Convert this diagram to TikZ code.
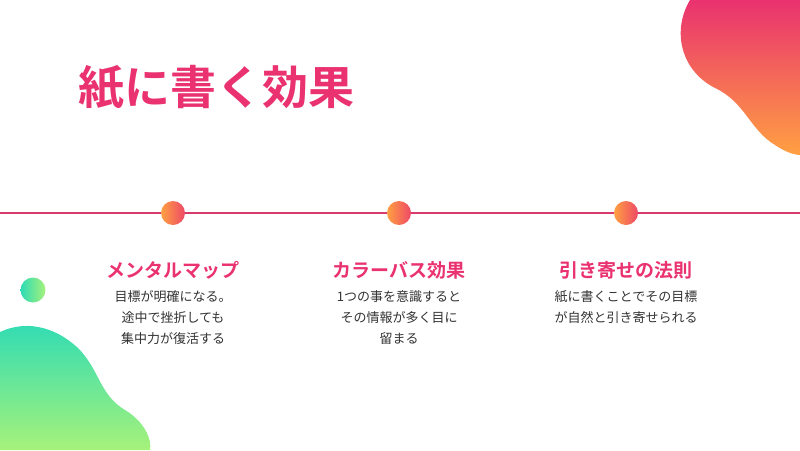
\documentclass[tikz,border=0pt]{standalone}
\usepackage{fontspec}
\newfontfamily\jp{Noto Sans CJK JP}
\newfontfamily\jpb{Noto Sans CJK JP Bold}
\definecolor{rosa}{HTML}{E9326F}
\definecolor{linea}{HTML}{D93A6C}
\definecolor{naranja}{HTML}{FFA042}
\definecolor{texto}{HTML}{333333}
\definecolor{verde}{HTML}{A6F27A}
\definecolor{turquesa}{HTML}{2DDBB6}
\tikzset{
  hito/.style={circle, minimum size=24pt, inner sep=0pt, left color=naranja, right color=rosa!80!naranja},
  titulo/.style={text=rosa, font=\jpb\fontsize{19}{22}\selectfont},
  cuerpo/.style={text=texto, align=center, font=\jp\fontsize{13}{21}\selectfont}
}
\begin{document}
\begin{tikzpicture}[x=1pt, y=-1pt]
  \useasboundingbox (0,0) rectangle (800,450);
  % blobs
  \shade[left color=rosa, right color=naranja, shading angle=0]
    (690,0) .. controls (672,30) and (680,70) .. (715,88)
    .. controls (745,102) and (750,130) .. (775,145)
    .. controls (785,152) and (795,155) .. (800,155) -- (800,0) -- cycle;
  \shade[top color=turquesa, bottom color=verde]
    (0,332) .. controls (30,318) and (60,330) .. (80,350)
    .. controls (100,372) and (100,395) .. (125,410)
    .. controls (145,422) and (152,440) .. (150,450) -- (0,450) -- cycle;
  \shade[left color=turquesa, right color=verde] (33,290) circle (12.5);
  % title
  \node[text=rosa, font=\jpb\fontsize{46}{52}\selectfont, anchor=west] (title) at (75,88) {紙に書く効果};
  % timeline
  \coordinate (l0) at (0,213);
  \coordinate (l1) at (800,213);
  \draw[linea, line width=2pt] (l0) -- (l1);
  \node[hito] (h1) at (173,213) {};
  \node[hito] (h2) at (399,213) {};
  \node[hito] (h3) at (626,213) {};
  \node[titulo] (t1) at (173,270) {メンタルマップ};
  \node[titulo] (t2) at (399,270) {カラーバス効果};
  \node[titulo] (t3) at (626,270) {引き寄せの法則};
  \node[cuerpo, anchor=north] (b1) at (173,287) {目標が明確になる。\\途中で挫折しても\\集中力が復活する};
  \node[cuerpo, anchor=north] (b2) at (399,287) {1つの事を意識すると\\その情報が多く目に\\留まる};
  \node[cuerpo, anchor=north] (b3) at (626,287) {紙に書くことでその目標\\が自然と引き寄せられる};
\end{tikzpicture}
\end{document}
